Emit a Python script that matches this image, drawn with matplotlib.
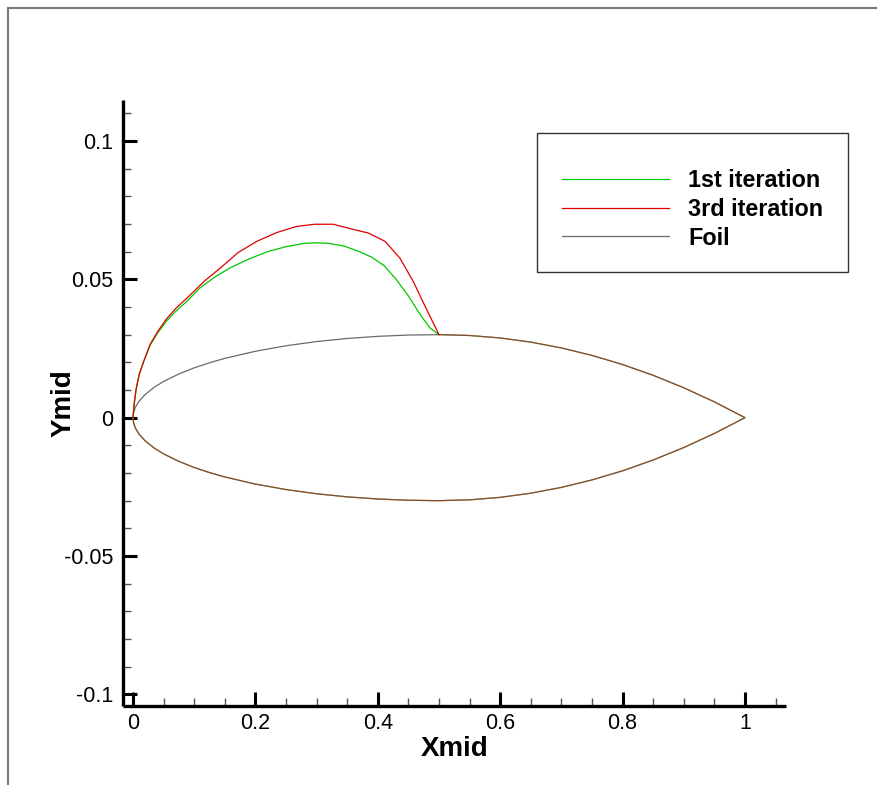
import matplotlib
matplotlib.use("Agg")
import matplotlib.pyplot as plt
from matplotlib.lines import Line2D
from matplotlib.patches import Rectangle
from matplotlib.ticker import FixedLocator, FixedFormatter

plt.rcParams['font.family'] = ['Liberation Sans', 'DejaVu Sans']
plt.rcParams['axes.unicode_minus'] = False

# ---- foil geometry (upper surface from leading to trailing edge) ----
foil_x_upper = [0.0, 0.001, 0.004, 0.01, 0.02, 0.035, 0.05, 0.075, 0.1, 0.125,
                0.15, 0.2, 0.25, 0.3, 0.35, 0.4, 0.45, 0.5,
                0.55, 0.6, 0.65, 0.7, 0.75, 0.8, 0.85, 0.9, 0.95, 1.0]
foil_y_upper = [0.0, 0.0019, 0.00379, 0.00597, 0.0084, 0.01103, 0.01308, 0.0158, 0.018, 0.01984,
                0.02142, 0.024, 0.02598, 0.0275, 0.02862, 0.02939, 0.02985, 0.03,
                0.0297, 0.0288, 0.0273, 0.0252, 0.0225, 0.0192, 0.0153, 0.0108, 0.0057, 0.0]

# lower surface from trailing edge back to leading edge
foil_x_lower = [1.0, 0.95, 0.9, 0.85, 0.8, 0.75, 0.7, 0.65, 0.6, 0.55,
                0.5, 0.45, 0.4, 0.35, 0.3, 0.25, 0.2, 0.15, 0.125, 0.1,
                0.075, 0.05, 0.035, 0.02, 0.01, 0.004, 0.001, 0.0]
foil_y_lower = [0.0, -0.0057, -0.0108, -0.0153, -0.0192, -0.0225, -0.0252, -0.0273, -0.0288, -0.0297,
                -0.03, -0.02985, -0.02939, -0.02862, -0.0275, -0.02598, -0.024, -0.02142, -0.01984, -0.018,
                -0.0158, -0.01308, -0.01103, -0.0084, -0.00597, -0.00379, -0.0019, 0.0]

# ---- deformed upper front surface after the 1st iteration ----
iter1_x = [0.0, 0.002, 0.005, 0.010, 0.017, 0.028, 0.040, 0.055, 0.070, 0.088,
           0.110, 0.135, 0.160, 0.190, 0.220, 0.250, 0.280, 0.300, 0.320, 0.345,
           0.370, 0.390, 0.410, 0.430, 0.450, 0.470, 0.485, 0.500]
iter1_y = [0.0, 0.0050, 0.0101, 0.0155, 0.0200, 0.0262, 0.0305, 0.0350, 0.0385, 0.0420,
           0.0470, 0.0510, 0.0543, 0.0574, 0.0600, 0.0618, 0.0630, 0.0632, 0.0630, 0.0620,
           0.0600, 0.0580, 0.0550, 0.0500, 0.0440, 0.0370, 0.0325, 0.0300]

# ---- deformed upper front surface after the 3rd iteration ----
iter3_x = [0.0, 0.002, 0.005, 0.010, 0.017, 0.028, 0.040, 0.055, 0.070, 0.090,
           0.118, 0.145, 0.172, 0.202, 0.235, 0.267, 0.297, 0.327, 0.357, 0.385,
           0.412, 0.436, 0.458, 0.480, 0.500]
iter3_y = [0.0, 0.0050, 0.0101, 0.0155, 0.0200, 0.0265, 0.0310, 0.0358, 0.0395, 0.0436,
           0.0496, 0.0545, 0.0597, 0.0637, 0.0669, 0.0691, 0.0699, 0.0699, 0.0682, 0.0667,
           0.0637, 0.0577, 0.0492, 0.0390, 0.0300]

series_labels = ['1st iteration', '3rd iteration', 'Foil']

x_ticks = [0, 0.2, 0.4, 0.6, 0.8, 1.0]
x_tick_labels = ['0', '0.2', '0.4', '0.6', '0.8', '1']
y_ticks = [-0.1, -0.05, 0.0, 0.05, 0.1]
y_tick_labels = ['-0.1', '-0.05', '0', '0.05', '0.1']
x_minor = [0.05, 0.1, 0.15, 0.25, 0.3, 0.35, 0.45, 0.5, 0.55, 0.65, 0.7, 0.75,
           0.85, 0.9, 0.95, 1.05]
y_minor = [-0.09, -0.08, -0.07, -0.06, -0.04, -0.03, -0.02, -0.01,
           0.01, 0.02, 0.03, 0.04, 0.06, 0.07, 0.08, 0.09, 0.11]

green = '#00c800'
red = '#e00000'
gray = '#6a6a6a'
lw = 0.9

W, H = 878, 785
fig = plt.figure(figsize=(W / 100, H / 100), dpi=100)
ax = fig.add_axes([123 / W, 1 - 706 / H, (786 - 123) / W, (706 - 100) / H])

# foil outline
foil_x = foil_x_upper + foil_x_lower[1:]
foil_y = foil_y_upper + foil_y_lower[1:]
ax.plot(foil_x, foil_y, color=gray, lw=lw, solid_joinstyle='round')

# iteration curves: deformed front part plus the unchanged rear/lower surface
i_rear = foil_x_upper.index(0.5)
shared_x = foil_x_upper[i_rear:] + foil_x_lower[1:]
shared_y = foil_y_upper[i_rear:] + foil_y_lower[1:]
ax.plot(shared_x, shared_y, color=green, lw=lw, alpha=0.33)
ax.plot(shared_x, shared_y, color=red, lw=lw, alpha=0.42)
ax.plot(iter1_x, iter1_y, color=green, lw=lw)
ax.plot(iter3_x, iter3_y, color=red, lw=lw)

ax.set_xlim(-0.0163, 1.067)
ax.set_ylim(-0.1042, 0.1148)

for s in ['top', 'right']:
    ax.spines[s].set_visible(False)
for s in ['left', 'bottom']:
    ax.spines[s].set_linewidth(2.4)
    ax.spines[s].set_capstyle('butt')

ax.xaxis.set_major_locator(FixedLocator(x_ticks))
ax.xaxis.set_major_formatter(FixedFormatter(x_tick_labels))
ax.yaxis.set_major_locator(FixedLocator(y_ticks))
ax.yaxis.set_major_formatter(FixedFormatter(y_tick_labels))
ax.xaxis.set_minor_locator(FixedLocator(x_minor))
ax.yaxis.set_minor_locator(FixedLocator(y_minor))

ax.tick_params(which='major', direction='in', length=10, width=2.2, labelsize=15.5,
               color='black')
ax.tick_params(which='minor', direction='in', length=6, width=1.0, color='#555555')
ax.tick_params(axis='y', which='major', pad=7)
ax.tick_params(axis='x', which='major', pad=5)

ax.set_xlabel('Xmid', fontsize=20, fontweight='bold', va='top')
ax.set_ylabel('Ymid', fontsize=20, fontweight='bold')
ax.xaxis.set_label_coords(0.5, -0.05)
ax.yaxis.set_label_coords(-0.07, 0.5)

# legend box
fig.add_artist(Rectangle((537 / W, 1 - 272 / H), (848 - 537) / W, (272 - 133) / H,
                         transform=fig.transFigure, fill=False, edgecolor='#333333', lw=1.0))
handles = [Line2D([], [], color=green, lw=lw),
           Line2D([], [], color=red, lw=lw),
           Line2D([], [], color=gray, lw=lw)]
leg = fig.legend(handles, series_labels, loc='upper left',
                 bbox_to_anchor=(562 / W, 1 - 169 / H), frameon=False,
                 borderpad=0, borderaxespad=0, handlelength=4.6, handletextpad=0.8,
                 labelspacing=0.25, prop={'weight': 'bold', 'size': 16.8})

# outer frame
fig.add_artist(Line2D([8 / W, 8 / W], [0, 1 - 7.5 / H], transform=fig.transFigure,
                      color='#7a7a7a', lw=1.5))
fig.add_artist(Line2D([8 / W, 1], [1 - 7.5 / H, 1 - 7.5 / H], transform=fig.transFigure,
                      color='#7a7a7a', lw=1.5))

fig.savefig('out.png', dpi=100)
